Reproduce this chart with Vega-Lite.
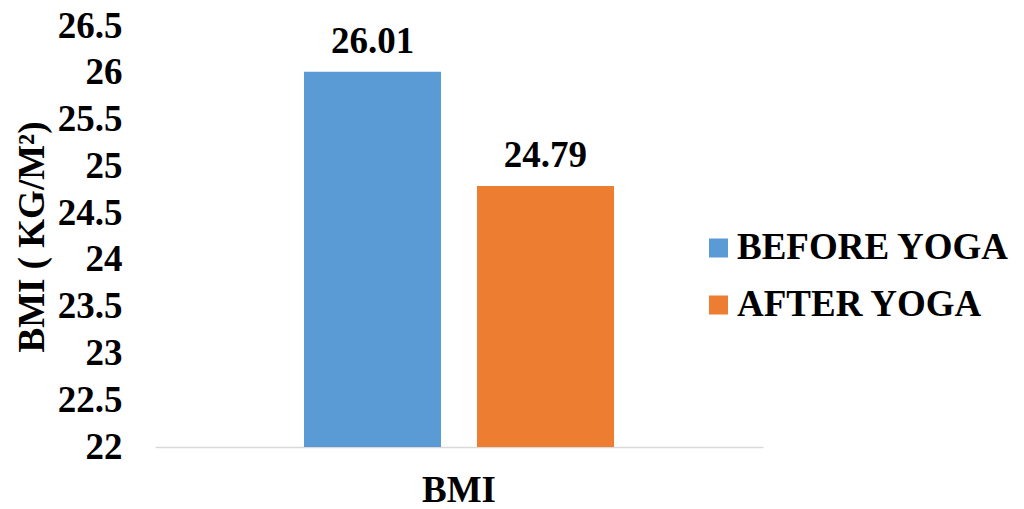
{
  "$schema": "https://vega.github.io/schema/vega-lite/v6.json",
  "width": 608,
  "height": 421,
  "autosize": {"type": "none"},
  "padding": {"left": 155, "top": 26, "right": 261, "bottom": 62},
  "background": "white",
  "config": {
    "view": {"stroke": null},
    "font": "Liberation Serif",
    "text": {"font": "Liberation Serif"}
  },
  "data": {
    "values": [
      {"measure": "BMI", "group": "BEFORE YOGA", "bmi": 26.01},
      {"measure": "BMI", "group": "AFTER YOGA", "bmi": 24.79}
    ]
  },
  "encoding": {
    "x": {
      "field": "measure",
      "type": "nominal",
      "scale": {"paddingInner": 0, "paddingOuter": 0.4806},
      "axis": {
        "title": null,
        "labelAngle": 0,
        "ticks": false,
        "domainColor": "#d9d9d9",
        "domainWidth": 1.5,
        "labelFont": "Liberation Serif",
        "labelFontSize": 37,
        "labelFontWeight": "bold",
        "labelColor": "black",
        "labelBaseline": "alphabetic",
        "labelPadding": 54
      }
    },
    "xOffset": {
      "field": "group",
      "type": "nominal",
      "sort": ["BEFORE YOGA", "AFTER YOGA"],
      "scale": {"paddingInner": 0.208, "paddingOuter": 0}
    },
    "y": {
      "field": "bmi",
      "type": "quantitative",
      "scale": {"domain": [22, 26.5], "zero": false, "nice": false},
      "axis": {
        "values": [22, 22.5, 23, 23.5, 24, 24.5, 25, 25.5, 26, 26.5],
        "format": "~g",
        "domain": false,
        "ticks": false,
        "grid": false,
        "labelPadding": 33,
        "labelFont": "Liberation Serif",
        "labelFontSize": 37,
        "labelFontWeight": "bold",
        "labelColor": "black",
        "title": "BMI ( KG/M²)",
        "titleFont": "Liberation Serif",
        "titleFontSize": 37,
        "titleFontWeight": "bold",
        "titleColor": "black",
        "titleAngle": -90,
        "titleAlign": "center",
        "titleBaseline": "alphabetic",
        "titleX": -112,
        "titleY": 210.5
      }
    }
  },
  "layer": [
    {
      "mark": {"type": "bar"},
      "encoding": {
        "y2": {"datum": 22},
        "color": {
          "field": "group",
          "type": "nominal",
          "scale": {
            "domain": ["BEFORE YOGA", "AFTER YOGA"],
            "range": ["#5B9BD5", "#ED7D31"]
          },
          "legend": {
            "title": null,
            "orient": "none",
            "legendX": 545,
            "legendY": 203.5,
            "padding": 0,
            "symbolType": "square",
            "symbolSize": 361,
            "symbolStrokeWidth": 0,
            "labelFont": "Liberation Serif",
            "labelFontSize": 37,
            "labelFontWeight": "bold",
            "labelColor": "black",
            "labelOffset": 0,
            "rowPadding": 19,
            "labelLimit": 400
          }
        }
      }
    },
    {
      "mark": {
        "type": "text",
        "baseline": "alphabetic",
        "dy": -19,
        "fontSize": 37,
        "fontWeight": "bold",
        "font": "Liberation Serif",
        "color": "black"
      },
      "encoding": {
        "text": {"field": "bmi", "type": "quantitative", "format": ".2f"}
      }
    }
  ]
}
